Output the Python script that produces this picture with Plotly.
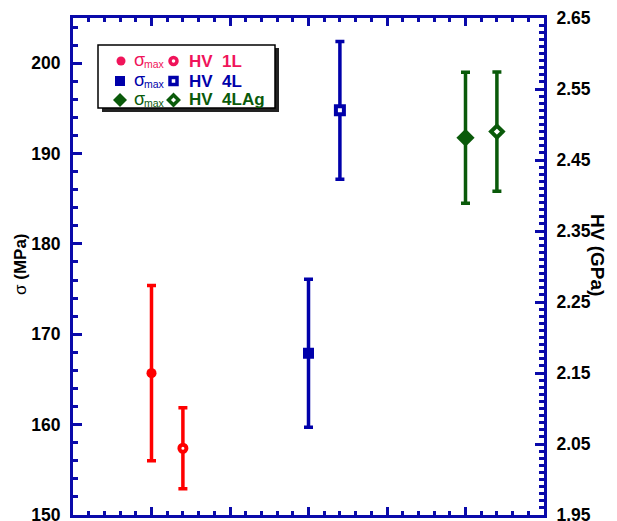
import plotly.graph_objects as go

# ---- data ----
samples = ["1L", "4L", "4LAg"]
x_sigma = [1.0, 3.0, 5.0]
sigma_max = [165.7, 167.9, 191.75]
sigma_err = [9.7, 8.2, 7.25]
x_hv = [1.4, 3.4, 5.4]
hv = [2.044, 2.520, 2.490]
hv_err = [0.057, 0.097, 0.084]

data_colors = ["#FF0000", "#0000AA", "#0A5A0A"]
legend_colors = ["#F0145A", "#0000AA", "#0A5A0A"]
filled_symbols = ["circle", "square", "diamond"]
filled_sizes = [10, 11, 14]
open_sizes = [7, 8, 9]

AXC = "#0A0AAA"
FONT = "Liberation Sans, Arial, sans-serif"

fig = go.Figure()
for i, s in enumerate(samples):
    fig.add_trace(go.Scatter(
        x=[x_sigma[i]], y=[sigma_max[i]], mode="markers", showlegend=False,
        marker=dict(symbol=filled_symbols[i], size=filled_sizes[i], color=data_colors[i],
                    line=dict(width=0)),
        error_y=dict(type="data", array=[sigma_err[i]], color=data_colors[i],
                     thickness=3.5, width=4.5),
        yaxis="y"))
    fig.add_trace(go.Scatter(
        x=[x_hv[i]], y=[hv[i]], mode="markers", showlegend=False,
        marker=dict(symbol=filled_symbols[i], size=open_sizes[i], color="white",
                    line=dict(width=4, color=data_colors[i])),
        error_y=dict(type="data", array=[hv_err[i]], color=data_colors[i],
                     thickness=3.5, width=4.5),
        yaxis="y2"))

# page body adds an 8px offset; compensate in margins
OFF = 8
W, H = 617, 521
L, R, T, B = 73 - OFF, W - (544 - OFF), 18 - OFF, H - (515 - OFF)
pw, ph = W - L - R, H - T - B


def px(x):
    return (x - OFF - L) / pw


def py(y):
    return (H - B - (y - OFF)) / ph


shapes = []
annotations = []
# legend box with shadow
shapes.append(dict(type="rect", xref="paper", yref="paper", x0=px(102), x1=px(279),
                   y0=py(112), y1=py(48), fillcolor="#222222", line=dict(width=0), layer="above"))
shapes.append(dict(type="rect", xref="paper", yref="paper", x0=px(98), x1=px(275),
                   y0=py(108), y1=py(45), fillcolor="white", line=dict(width=1.5, color="black"),
                   layer="above"))

rows = [61, 81, 100]
for i, s in enumerate(samples):
    cy = rows[i]
    c = legend_colors[i]
    if i == 0:
        shapes.append(dict(type="circle", xref="paper", yref="paper", x0=px(116.5), x1=px(125.5),
                           y0=py(cy + 4.5), y1=py(cy - 4.5), fillcolor=c, line=dict(width=0), layer="above"))
        shapes.append(dict(type="circle", xref="paper", yref="paper", x0=px(170), x1=px(177),
                           y0=py(cy + 3.5), y1=py(cy - 3.5), fillcolor="white", line=dict(width=3.5, color=c),
                           layer="above"))
    elif i == 1:
        shapes.append(dict(type="rect", xref="paper", yref="paper", x0=px(115), x1=px(125),
                           y0=py(cy + 5), y1=py(cy - 5), fillcolor=c, line=dict(width=0), layer="above"))
        shapes.append(dict(type="rect", xref="paper", yref="paper", x0=px(170), x1=px(177),
                           y0=py(cy + 3.5), y1=py(cy - 3.5), fillcolor="white", line=dict(width=3.5, color=c),
                           layer="above"))
    else:
        d = 7
        p = (f"M {px(120-d)},{py(cy)} L {px(120)},{py(cy-d)} L {px(120+d)},{py(cy)} "
             f"L {px(120)},{py(cy+d)} Z")
        shapes.append(dict(type="path", xref="paper", yref="paper", path=p, fillcolor=c,
                           line=dict(width=0), layer="above"))
        d = 5
        p = (f"M {px(173.5-d)},{py(cy)} L {px(173.5)},{py(cy-d)} L {px(173.5+d)},{py(cy)} "
             f"L {px(173.5)},{py(cy+d)} Z")
        shapes.append(dict(type="path", xref="paper", yref="paper", path=p, fillcolor="white",
                           line=dict(width=3.5, color=c), layer="above"))
    annotations.append(dict(xref="paper", yref="paper", x=px(132), y=py(cy - 1), xanchor="left",
                            yanchor="middle", showarrow=False, text="σ",
                            font=dict(family=FONT, size=18, color=c)))
    annotations.append(dict(xref="paper", yref="paper", x=px(142), y=py(cy + 3), xanchor="left",
                            yanchor="middle", showarrow=False, text="max",
                            font=dict(family=FONT, size=10.5, color=c)))
    annotations.append(dict(xref="paper", yref="paper", x=px(187), y=py(cy), xanchor="left",
                            yanchor="middle", showarrow=False, text=f"<b>HV&nbsp;&nbsp;{s}</b>",
                            font=dict(family=FONT, size=17, color=c)))

annotations.append(dict(xref="paper", yref="paper", x=px(20), y=py(264), xanchor="center",
                        yanchor="middle", showarrow=False, textangle=-90,
                        text="σ <b>(MPa)</b>", font=dict(family=FONT, size=17, color="black")))
annotations.append(dict(xref="paper", yref="paper", x=px(598), y=py(255), xanchor="center",
                        yanchor="middle", showarrow=False, textangle=90,
                        text="<b>HV (GPa)</b>", font=dict(family=FONT, size=19, color="black")))

tickfont = dict(family=FONT, size=17.5, color="black", weight="bold")

fig.update_layout(
    width=W, height=H,
    margin=dict(l=L, r=R, t=T, b=B, autoexpand=False),
    paper_bgcolor="white", plot_bgcolor="white",
    xaxis=dict(range=[0, 6], showgrid=False, zeroline=False, showticklabels=False,
               showline=True, linecolor=AXC, linewidth=3, mirror="ticks",
               ticks="inside", tick0=0, dtick=1, ticklen=8, tickwidth=2.5, tickcolor=AXC,
               minor=dict(ticks="inside", dtick=0.2, ticklen=4, tickwidth=2.5, tickcolor=AXC)),
    yaxis=dict(range=[150, 205], showgrid=False, zeroline=False, automargin=False,
               showline=True, linecolor=AXC, linewidth=3,
               ticks="inside", tick0=150, dtick=10, ticklen=9, tickwidth=2.5, tickcolor=AXC,
               minor=dict(ticks="inside", dtick=2, ticklen=5, tickwidth=2.5, tickcolor=AXC),
               tickfont=tickfont, ticklabelstandoff=6, ticklabeloverflow="allow"),
    yaxis2=dict(range=[1.95, 2.65], overlaying="y", side="right", showgrid=False, zeroline=False,
                automargin=False,
                showline=True, linecolor=AXC, linewidth=3,
                ticks="inside", tick0=1.95, dtick=0.1, ticklen=9, tickwidth=2.5, tickcolor=AXC,
                tickformat=".2f",
                minor=dict(ticks="inside", dtick=0.01, ticklen=5, tickwidth=2.5, tickcolor=AXC),
                tickfont=tickfont, ticklabelstandoff=6, ticklabeloverflow="allow"),
    shapes=shapes,
    annotations=annotations,
)

fig.write_html("out.html")
